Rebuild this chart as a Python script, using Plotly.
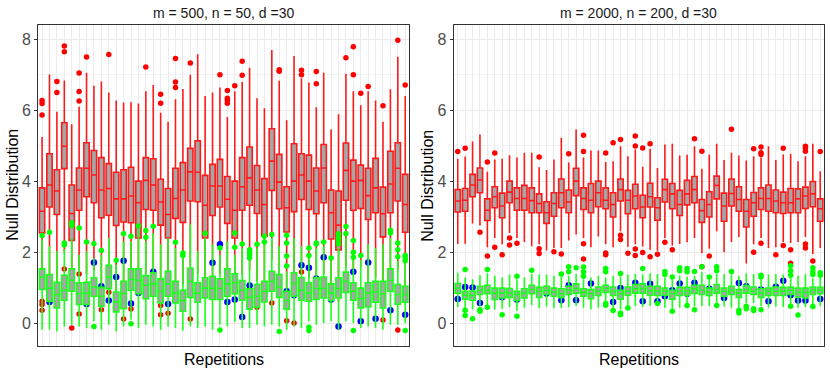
import plotly.graph_objects as go

reps = list(range(1, 51))

# ---- left panel: m = 500, n = 50, d = 30 ----
red_q1_a = [2.55, 3.28, 3.07, 4.36, 2.34, 3.19, 3.57, 3.40, 2.98, 3.05,
            2.76, 2.86, 2.84, 2.41, 3.21, 3.19, 2.77, 2.41, 2.96, 2.85,
            3.45, 3.43, 2.41, 3.04, 3.28, 2.82, 2.41, 3.19, 3.33, 3.10,
            2.46, 3.75, 3.23, 2.58, 3.15, 3.49, 3.21, 3.09, 3.40, 2.38,
            2.07, 3.47, 3.19, 3.24, 2.93, 3.12, 2.44, 3.12, 3.45, 2.57]
red_med_a = [3.16, 3.90, 3.73, 4.99, 3.10, 3.76, 4.37, 4.18, 3.76, 3.80,
             3.51, 3.51, 3.59, 3.40, 4.03, 3.90, 3.42, 3.07, 3.52, 3.76,
             4.27, 4.26, 3.33, 3.87, 3.87, 3.50, 3.19, 3.85, 4.10, 3.76,
             3.35, 4.57, 3.98, 3.26, 4.01, 4.18, 4.01, 3.73, 4.38, 3.12,
             2.77, 4.31, 4.01, 4.03, 3.60, 3.82, 3.09, 3.93, 4.37, 3.35]
red_q3_a = [3.82, 4.78, 4.33, 5.65, 3.90, 4.38, 5.09, 4.87, 4.67, 4.50,
            4.26, 4.33, 4.40, 4.01, 4.67, 4.64, 4.06, 3.80, 4.37, 4.53,
            4.93, 5.14, 4.17, 4.48, 4.62, 4.14, 4.01, 4.67, 4.97, 4.45,
            4.08, 5.48, 4.76, 3.85, 5.06, 4.78, 4.74, 4.38, 5.04, 3.76,
            3.73, 5.08, 4.60, 4.46, 4.37, 4.65, 3.84, 4.85, 5.09, 4.20]
red_hi_a = [5.25, 7.01, 5.96, 6.84, 5.61, 6.10, 7.06, 6.69, 6.81, 6.50,
            6.28, 6.22, 6.23, 6.19, 6.54, 6.71, 5.93, 5.68, 6.31, 6.60,
            7.00, 7.58, 6.40, 6.50, 6.64, 5.81, 6.54, 6.80, 7.20, 6.34,
            6.06, 7.70, 6.83, 5.72, 7.53, 6.90, 6.78, 6.09, 7.06, 5.46,
            5.89, 7.03, 6.54, 6.14, 6.54, 6.28, 5.68, 6.59, 7.51, 6.40]
red_lo_a = [1.2, 1.0, 1.1, 2.0, 0.9, 1.5, 1.4, 1.5, 1.0, 1.2,
            0.9, 1.0, 1.1, 0.8, 1.4, 1.3, 1.0, 0.9, 1.2, 1.1,
            1.6, 1.4, 0.8, 1.2, 1.4, 1.1, 0.9, 1.4, 1.5, 1.2,
            0.8, 1.8, 1.3, 1.0, 1.0, 1.7, 1.3, 1.3, 1.4, 0.9,
            0.6, 1.6, 1.4, 1.6, 1.1, 1.3, 0.9, 1.2, 1.5, 0.9]
red_out_a = {1: [6.28, 6.19, 5.87, 0.63, 0.54, 0.38], 3: [6.81, 6.50],
             4: [7.81, 7.65, 1.54], 5: [-0.12], 6: [7.05, 6.53, 6.26, 1.40, 0.27],
             7: [7.50], 9: [0.39], 10: [7.57, 0.88], 12: [0.13], 13: [0.41],
             15: [7.22], 17: [6.45, 6.20, 0.51, 0.25], 18: [0.29],
             19: [7.46, 6.80, 6.64], 21: [7.33, 0.13], 25: [7.00],
             26: [6.56, 6.34, 6.28, 6.20], 27: [6.69], 28: [7.38, 6.99],
             30: [0.46], 32: [0.58], 33: [7.14, 7.10], 34: [0.08], 35: [0.02],
             36: [7.13, 7.00, 1.45], 38: [7.09, 6.75], 42: [7.48],
             43: [7.79, 7.00], 44: [6.48], 45: [6.67], 47: [6.13, 0.10],
             49: [7.97, -0.18], 50: [6.71]}

green_q1_a = [0.96, 0.63, 0.44, 0.66, 0.91, 0.54, 0.54, 0.77, 0.49, 0.98,
              0.33, 0.42, 0.94, 0.84, 0.70, 0.77, 0.58, 0.77, 0.58, 0.35,
              0.74, 0.60, 0.72, 0.68, 0.68, 0.77, 0.84, 0.66, 0.41, 0.46,
              0.61, 0.91, 0.74, 0.41, 0.77, 0.66, 0.63, 0.68, 0.72, 0.65,
              0.72, 0.88, 0.66, 0.44, 0.47, 0.60, 0.44, 0.91, 0.55, 0.60]
green_med_a = [1.31, 1.00, 0.82, 0.94, 1.22, 0.84, 0.86, 1.03, 0.77, 1.31,
               0.61, 0.85, 1.24, 1.22, 1.08, 1.12, 0.91, 1.12, 0.86, 0.65,
               1.19, 0.86, 1.00, 1.00, 0.99, 1.12, 1.15, 0.94, 0.74, 0.77,
               0.91, 1.19, 1.03, 0.65, 1.13, 0.94, 0.86, 0.99, 0.99, 0.86,
               0.99, 1.19, 0.91, 0.70, 0.86, 0.89, 0.84, 1.22, 0.82, 0.82]
green_q3_a = [1.54, 1.38, 1.16, 1.36, 1.54, 1.15, 1.16, 1.29, 1.02, 1.64,
              0.89, 1.19, 1.54, 1.54, 1.35, 1.43, 1.26, 1.47, 1.19, 0.94,
              1.56, 1.15, 1.29, 1.33, 1.26, 1.54, 1.40, 1.21, 0.98, 1.10,
              1.19, 1.47, 1.38, 0.91, 1.43, 1.29, 1.15, 1.29, 1.31, 1.12,
              1.29, 1.45, 1.15, 1.00, 1.15, 1.19, 1.19, 1.54, 1.10, 1.05]
green_hi_a = [2.37, 2.18, 2.04, 2.10, 2.41, 1.94, 2.04, 1.85, 1.94, 2.41,
              1.66, 2.32, 2.32, 2.65, 2.32, 2.55, 2.23, 2.41, 2.13, 1.85,
              2.79, 2.04, 2.41, 2.23, 1.94, 2.32, 1.94, 2.13, 1.76, 2.13,
              2.23, 2.41, 2.18, 1.47, 2.41, 2.18, 1.85, 2.13, 2.18, 1.76,
              2.13, 2.41, 1.80, 1.80, 2.23, 2.13, 2.23, 2.41, 1.76, 1.71]
green_lo_a = [-0.17, -0.17, -0.22, -0.08, -0.03, -0.08, -0.12, 0.07, -0.17, -0.03,
              -0.22, -0.08, 0.11, -0.12, -0.03, -0.08, -0.17, -0.08, -0.12, -0.19,
              -0.08, -0.12, -0.08, -0.17, -0.03, -0.08, 0.05, -0.12, -0.12, -0.03,
              -0.08, -0.03, -0.08, -0.17, -0.08, -0.12, 0.07, -0.03, 0.02, 0.07,
              -0.17, 0.07, 0.02, -0.12, -0.08, -0.12, -0.17, -0.03, -0.03, 0.02]
green_out_a = {1: [2.48], 2: [2.57], 4: [2.27, 2.21], 5: [2.84, 2.76], 6: [2.69],
               7: [2.30], 8: [2.25, -0.08], 9: [2.06], 11: [1.78], 12: [2.53],
               13: [2.46, 0.00], 14: [2.75], 15: [2.62, 2.43], 16: [2.74],
               19: [2.29], 20: [1.99, 1.92], 23: [2.54], 25: [2.13, -0.18],
               27: [2.55, 2.15], 28: [2.24], 29: [2.08, 2.01, 1.94, 1.85],
               30: [2.23], 31: [2.46, 2.30], 32: [2.51], 33: [-0.22],
               34: [2.49, 2.27, 1.90, 1.62], 37: [2.13, 1.92, -0.10, -0.19],
               38: [2.27, 2.24], 39: [2.30], 40: [1.85], 41: [2.53, 2.43, 2.37, 2.25],
               42: [2.73, 2.53], 43: [2.34, 2.01, 1.87, -0.19], 44: [1.92],
               48: [2.63, 2.55], 49: [2.27, 2.08, 1.88], 50: [1.92, 1.85, 1.77, -0.19]}

blue_rep_a = [2, 4, 7, 8, 9, 10, 11, 12, 13, 14, 16, 18, 24, 25, 26, 27,
              28, 29, 34, 35, 36, 37, 38, 39, 40, 41, 43, 44, 45, 46, 48, 50]
blue_val_a = [0.61, 1.29, 0.55, 1.72, 1.05, 0.65, 1.31, 1.77, 0.57, 0.86, 1.46,
              0.55, 1.71, 2.23, 0.61, 0.68, 0.19, 1.07, 0.91, 0.80, 1.64, 1.57,
              1.27, 1.87, 0.68, -0.08, 1.46, 0.07, 1.72, 0.14, 0.38, 0.25]

# ---- right panel: m = 2000, n = 200, d = 30 ----
red_q1_b = [3.14, 3.16, 3.57, 3.68, 2.90, 3.26, 2.98, 3.40, 3.19, 3.19,
            3.12, 3.12, 2.82, 3.02, 3.26, 3.12, 3.60, 3.21, 3.12, 3.29,
            3.23, 3.00, 3.45, 3.09, 3.23, 2.98, 3.28, 2.91, 3.42, 3.23,
            3.04, 3.34, 3.40, 2.85, 3.00, 3.51, 2.88, 3.31, 3.16, 2.72,
            3.02, 3.21, 3.16, 3.12, 3.10, 3.12, 3.12, 3.24, 3.29, 2.88]
red_med_b = [3.45, 3.47, 3.90, 4.04, 3.19, 3.57, 3.31, 3.70, 3.52, 3.52,
             3.46, 3.38, 3.12, 3.38, 3.68, 3.42, 4.01, 3.52, 3.47, 3.68,
             3.47, 3.35, 3.77, 3.47, 3.59, 3.28, 3.57, 3.26, 3.77, 3.65,
             3.35, 3.65, 3.77, 3.18, 3.35, 3.89, 3.31, 3.66, 3.49, 3.16,
             3.40, 3.52, 3.52, 3.45, 3.40, 3.40, 3.51, 3.59, 3.65, 3.23]
red_q3_b = [3.77, 3.80, 4.20, 4.38, 3.51, 3.85, 3.67, 4.01, 3.82, 3.89,
            3.82, 3.65, 3.43, 3.68, 4.07, 3.76, 4.37, 3.82, 3.94, 4.01,
            3.82, 3.68, 4.07, 3.75, 3.92, 3.61, 3.95, 3.54, 4.06, 3.94,
            3.75, 4.03, 4.14, 3.49, 3.71, 4.15, 3.67, 4.07, 3.85, 3.49,
            3.69, 3.82, 3.90, 3.76, 3.70, 3.80, 3.79, 3.84, 4.00, 3.51]
red_hi_b = [4.64, 4.70, 5.12, 5.32, 4.27, 4.62, 4.64, 4.74, 4.67, 4.81,
            4.81, 4.40, 4.32, 4.62, 5.23, 4.53, 5.46, 4.67, 4.87, 4.87,
            4.55, 4.57, 4.99, 4.71, 4.90, 4.41, 4.92, 4.38, 5.04, 5.06,
            4.73, 4.75, 4.99, 4.36, 4.76, 5.06, 4.60, 4.81, 4.73, 4.59,
            4.71, 4.67, 4.99, 4.60, 4.76, 4.78, 4.57, 4.71, 5.06, 4.29]
red_lo_b = [2.24, 2.25, 2.82, 2.76, 2.15, 2.41, 2.23, 2.55, 2.41, 2.30,
            2.18, 2.23, 2.06, 2.13, 2.13, 2.34, 2.51, 2.41, 2.15, 2.45,
            2.23, 2.15, 2.60, 2.16, 2.23, 2.17, 2.08, 2.05, 2.41, 2.20,
            2.24, 2.29, 2.41, 1.98, 2.11, 2.60, 2.01, 2.30, 2.44, 1.69,
            2.23, 2.41, 2.13, 2.15, 2.30, 2.27, 2.30, 2.44, 1.96, 2.13]
red_out_b = {1: [4.84], 2: [4.93], 4: [2.57], 5: [4.55, 1.90], 6: [4.80, 2.15],
             7: [1.94], 8: [2.41, 2.21], 9: [2.26], 12: [4.69, 2.11, 1.97],
             14: [2.02], 15: [1.96], 16: [4.78], 18: [5.30, 4.84, 2.25, 1.82],
             21: [4.80, 1.99, 1.94], 22: [5.09], 23: [5.18, 2.49, 2.37], 24: [1.98],
             25: [5.28, 5.00, 2.10, 1.92], 26: [4.94, 2.00], 27: [5.06, 1.88],
             28: [1.95], 29: [2.29], 30: [2.08], 33: [5.20], 34: [4.85, 1.60],
             35: [1.90], 38: [5.47], 41: [4.92, 2.01], 42: [4.97, 4.81, 4.76, 2.26],
             44: [1.94], 45: [4.93, 2.20], 46: [2.08, 1.70],
             48: [4.99, 4.93, 4.85, 2.24, 2.13], 49: [1.76], 50: [4.84]}

green_q1_b = [0.86, 0.69, 0.66, 0.82, 0.84, 0.68, 0.72, 0.74, 0.65, 0.72,
              0.84, 0.74, 0.82, 0.77, 0.74, 0.82, 0.86, 0.77, 0.70, 0.79,
              0.88, 0.79, 0.69, 0.80, 0.86, 0.86, 0.80, 0.79, 0.80, 0.69,
              0.79, 0.80, 0.85, 0.82, 0.79, 0.86, 0.77, 0.82, 0.74, 0.86,
              0.82, 0.74, 0.79, 0.79, 0.79, 0.82, 0.75, 0.72, 0.82, 0.84]
green_med_b = [1.00, 0.80, 0.79, 0.94, 0.94, 0.86, 0.86, 0.86, 0.82, 0.86,
               0.96, 0.91, 0.94, 0.89, 0.84, 0.94, 0.99, 0.88, 0.84, 0.91,
               0.99, 0.91, 0.84, 0.91, 0.98, 0.99, 0.93, 0.91, 0.91, 0.84,
               0.91, 0.91, 0.98, 0.94, 0.89, 0.96, 0.91, 0.94, 0.86, 0.96,
               0.91, 0.86, 0.91, 0.91, 0.91, 0.94, 0.88, 0.88, 0.94, 0.94]
green_q3_b = [1.13, 0.91, 0.91, 1.05, 1.08, 1.00, 1.00, 0.99, 0.91, 0.98,
              1.08, 1.02, 1.05, 1.00, 0.98, 1.05, 1.12, 0.98, 0.96, 1.03,
              1.08, 1.03, 0.94, 1.03, 1.10, 1.12, 1.05, 1.05, 1.00, 0.94,
              1.02, 1.02, 1.08, 1.08, 1.00, 1.10, 1.00, 1.05, 0.96, 1.07,
              1.03, 0.98, 1.00, 1.03, 1.02, 1.03, 1.00, 1.00, 1.03, 1.02]
green_hi_b = [1.43, 1.30, 1.25, 1.36, 1.42, 1.35, 1.30, 1.38, 1.25, 1.30,
              1.40, 1.38, 1.38, 1.35, 1.33, 1.35, 1.40, 1.25, 1.30, 1.35,
              1.30, 1.35, 1.32, 1.38, 1.40, 1.38, 1.42, 1.40, 1.30, 1.25,
              1.35, 1.32, 1.35, 1.45, 1.28, 1.40, 1.40, 1.38, 1.35, 1.42,
              1.40, 1.25, 1.38, 1.40, 1.38, 1.30, 1.35, 1.40, 1.28, 1.30]
green_lo_b = [0.47, 0.42, 0.40, 0.48, 0.52, 0.40, 0.42, 0.47, 0.36, 0.45,
              0.52, 0.44, 0.48, 0.43, 0.44, 0.46, 0.50, 0.45, 0.40, 0.45,
              0.60, 0.45, 0.40, 0.50, 0.50, 0.47, 0.50, 0.62, 0.45, 0.42,
              0.45, 0.55, 0.48, 0.50, 0.50, 0.58, 0.48, 0.45, 0.45, 0.58,
              0.58, 0.50, 0.45, 0.48, 0.47, 0.55, 0.45, 0.47, 0.55, 0.50]
green_out_b = {2: [1.52, 0.38, 0.23], 3: [0.14], 4: [0.39, 0.35], 5: [1.52, 0.46],
               7: [0.25], 9: [1.33, 0.21], 11: [1.50], 15: [1.40], 16: [1.60, 1.46],
               17: [1.57], 18: [1.59, 1.46, 1.33], 21: [1.55, 1.46, 0.57, 0.52],
               22: [0.37], 23: [1.41, 0.30, 0.25], 24: [0.44], 26: [1.55], 28: [0.57],
               29: [1.47, 1.38], 30: [1.31, 0.35], 31: [1.57, 1.49],
               32: [1.55, 1.46, 0.51], 33: [1.47, 0.39], 34: [1.60], 35: [1.31],
               36: [1.60, 1.49, 0.51], 38: [1.47], 39: [0.38, 0.30], 40: [0.49, 0.42],
               41: [0.42, 0.37], 42: [1.36, 1.31, 0.39], 46: [1.63, 1.49, 1.36, 0.49],
               47: [0.24], 49: [1.57, 1.47, 1.38, 0.48], 50: [1.43, 1.36]}

blue_rep_b = [1, 2, 3, 4, 7, 9, 13, 15, 16, 17, 19, 22, 23, 25, 26, 27, 28,
              29, 30, 31, 32, 33, 35, 37, 39, 40, 42, 43, 44, 45, 46, 47, 48, 50]
blue_val_b = [0.69, 1.03, 1.02, 0.58, 0.74, 0.68, 0.85, 0.66, 1.08, 0.66, 1.13,
              0.61, 1.00, 1.15, 0.63, 1.12, 0.63, 0.77, 0.94, 1.13, 0.84, 1.15,
              0.98, 0.72, 1.14, 1.05, 0.96, 0.63, 1.04, 1.21, 0.80, 0.65, 0.65, 0.69]

titles = ["m = 500, n = 50, d =30", "m = 2000, n = 200, d =30"]
FILL = "#A6A6A6"
FONT = "Liberation Sans, Arial, sans-serif"


def flatten(d):
    xs, ys = [], []
    for k, vals in d.items():
        for v in vals:
            xs.append(k)
            ys.append(v)
    return xs, ys


def box(q1, med, q3, lo, hi, color, xa, ya):
    return go.Box(x=reps, q1=q1, median=med, q3=q3, lowerfence=lo, upperfence=hi,
                  fillcolor=FILL, line=dict(color=color, width=1.6), whiskerwidth=0,
                  width=0.72, boxpoints=False, showlegend=False, hoverinfo="skip",
                  xaxis=xa, yaxis=ya)


def points(xs, ys, color, size, xa, ya):
    return go.Scatter(x=xs, y=ys, mode="markers", marker=dict(color=color, size=size),
                      showlegend=False, hoverinfo="skip", xaxis=xa, yaxis=ya)


fig = go.Figure()
panels = [
    (red_q1_a, red_med_a, red_q3_a, red_lo_a, red_hi_a, red_out_a, blue_rep_a, blue_val_a,
     green_q1_a, green_med_a, green_q3_a, green_lo_a, green_hi_a, green_out_a, "x", "y", "x3", "y3"),
    (red_q1_b, red_med_b, red_q3_b, red_lo_b, red_hi_b, red_out_b, blue_rep_b, blue_val_b,
     green_q1_b, green_med_b, green_q3_b, green_lo_b, green_hi_b, green_out_b, "x2", "y2", "x4", "y4"),
]
for (rq1, rmed, rq3, rlo, rhi, rout, brep, bval,
     gq1, gmed, gq3, glo, ghi, gout, xa, ya, xo, yo) in panels:
    fig.add_trace(box(rq1, rmed, rq3, rlo, rhi, "#FF1A1A", xa, ya))
    ox, oy = flatten(rout)
    fig.add_trace(points(ox, oy, "#FF0000", 5.5, xa, ya))
    fig.add_trace(points(brep, bval, "#0000FF", 6.5, xa, ya))
    # green layer sits on an overlaid axis pair so it covers red whiskers and blue points
    fig.add_trace(box(gq1, gmed, gq3, glo, ghi, "#1AFF1A", xo, yo))
    ox, oy = flatten(gout)
    fig.add_trace(points(ox, oy, "#00FF00", 5.5, xo, yo))

XR = [0.45, 50.55]
YR = [-0.62, 8.40]
ydom = [1 - 345.7 / 374, 1 - 25 / 374]
doms = [[38 / 830, 409.3 / 830], [453.7 / 830, 824.3 / 830]]

base_x = dict(range=XR, tickmode="linear", tick0=1, dtick=1, showticklabels=False,
              ticks="", showgrid=True, gridcolor="#EBEBEB", gridwidth=1.1, zeroline=False,
              showline=True, mirror=True, linecolor="#333333", linewidth=1)
base_y = dict(range=YR, tickmode="linear", tick0=0, dtick=2, ticks="outside", ticklen=3,
              tickcolor="#333333", tickfont=dict(size=16, color="#4D4D4D"),
              showgrid=True, gridcolor="#EBEBEB", gridwidth=1.1,
              minor=dict(dtick=1, tick0=0, showgrid=True, gridcolor="#F3F3F3", gridwidth=0.6),
              zeroline=False, showline=True, mirror=True, linecolor="#333333", linewidth=1)
hidden_x = dict(range=XR, visible=False, showgrid=False, zeroline=False)
hidden_y = dict(range=YR, visible=False, showgrid=False, zeroline=False)

fig.update_layout(
    width=830, height=374,
    margin=dict(l=0, r=0, t=0, b=0),
    paper_bgcolor="white", plot_bgcolor="white",
    boxmode="overlay",
    font=dict(family=FONT, color="#000000"),
    xaxis=dict(base_x, domain=doms[0], anchor="y"),
    yaxis=dict(base_y, domain=ydom, anchor="x"),
    xaxis2=dict(base_x, domain=doms[1], anchor="y2"),
    yaxis2=dict(base_y, domain=ydom, anchor="x2"),
    xaxis3=dict(hidden_x, overlaying="x", anchor="y3"),
    yaxis3=dict(hidden_y, overlaying="y", anchor="x3"),
    xaxis4=dict(hidden_x, overlaying="x2", anchor="y4"),
    yaxis4=dict(hidden_y, overlaying="y2", anchor="x4"),
)

ann = []
for i, dom in enumerate(doms):
    cx = (dom[0] + dom[1]) / 2
    ann.append(dict(text=titles[i], x=cx, y=1 - 12.7 / 374, xref="paper", yref="paper",
                    showarrow=False, xanchor="center", yanchor="middle",
                    font=dict(size=14, color="#1A1A1A")))
    ann.append(dict(text="Repetitions", x=cx, y=1 - 359 / 374, xref="paper", yref="paper",
                    showarrow=False, xanchor="center", yanchor="middle",
                    font=dict(size=16, color="#000000")))
    ann.append(dict(text="Null Distribution", x=(12.5 + i * 415) / 830, y=(ydom[0] + ydom[1]) / 2,
                    xref="paper", yref="paper", showarrow=False, textangle=-90,
                    xanchor="center", yanchor="middle", font=dict(size=16, color="#000000")))
fig.update_layout(annotations=ann)

# the page body has a default 8px margin; drop it so the figure sits at the window origin
fig.write_html("out.html", config={"displayModeBar": False},
               post_script="document.body.style.margin='0px';")
